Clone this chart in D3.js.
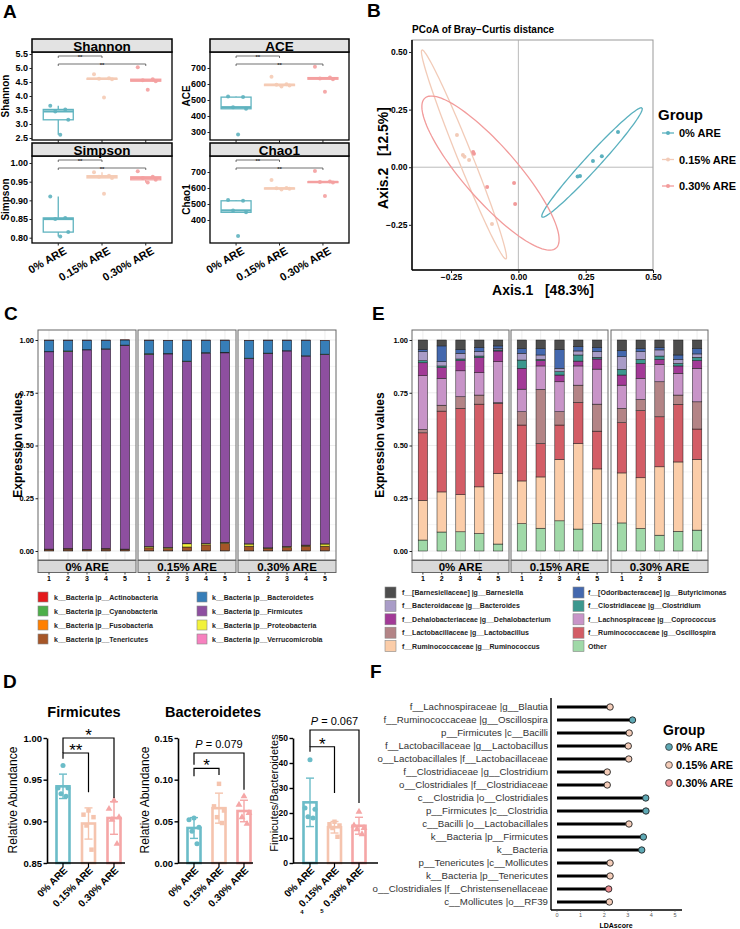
<!DOCTYPE html>
<html>
<head>
<meta charset="utf-8">
<script src="https://cdn.jsdelivr.net/npm/d3@7"></script>
<style>
body { margin: 0; background: #fff; }
svg { font-family: "Liberation Sans", Arial, sans-serif; }
</style>
</head>
<body>
<svg id="fig" width="740" height="929"></svg>
<script>
const FONT = "'Liberation Sans', Arial, sans-serif";
const groups = ["0% ARE", "0.15% ARE", "0.30% ARE"];

// ---- A: alpha diversity (5 mice per group)
const shannonVals = [[3.65, 3.52, 3.45, 3.15, 2.62], [4.78, 4.63, 4.62, 4.60, 3.95], [5.03, 4.60, 4.56, 4.53, 4.22]];
const simpsonVals = [[0.910, 0.853, 0.850, 0.815, 0.803], [0.975, 0.966, 0.963, 0.960, 0.918], [0.978, 0.963, 0.960, 0.955, 0.948]];
const aceVals = [[522, 518, 455, 445, 285], [645, 598, 595, 590, 585], [708, 640, 635, 630, 552]];
const chao1Vals = [[525, 520, 460, 448, 300], [650, 600, 598, 595, 590], [706, 640, 638, 635, 550]];

// ---- B: PCoA coordinates
const pcoaX = [[0.37, 0.31, 0.277, 0.229, 0.22], [-0.228, -0.206, -0.183, -0.098, -0.2], [-0.168, -0.165, -0.116, -0.016, -0.012]];
const pcoaY = [[0.153, 0.048, 0.027, -0.038, -0.04], [0.14, 0.053, 0.031, -0.246, 0.045], [0.066, 0.058, -0.086, -0.069, -0.16]];
const ellipseAxis = [[[0.459, 0.257], [0.088, -0.216]], [[-0.358, 0.509], [-0.046, -0.398]], [[-0.347, 0.30], [0.14, -0.351]]];
const ellipseRatio = [0.1, 0.065, 0.27];

// ---- C: phylum composition, 15 samples
const phyla = ["Actinobacteria", "Bacteroidetes", "Cyanobacteria", "Firmicutes", "Fusobacteria", "Proteobacteria", "Tenericutes", "Verrucomicrobia"];
const phylumColors = ["#e41a1c", "#377eb8", "#4daf4a", "#8e4fa0", "#ff7f00", "#f2f23a", "#a65628", "#f781bf"];
const actinobacteria = [0.001, 0.001, 0.001, 0.001, 0.001, 0.001, 0.001, 0.001, 0.001, 0.001, 0.001, 0.001, 0.001, 0.001, 0.001];
const bacteroidetes = [0.054, 0.051, 0.045, 0.041, 0.024, 0.064, 0.062, 0.099, 0.059, 0.057, 0.084, 0.061, 0.050, 0.074, 0.064];
const cyanobacteria = [0.001, 0.003, 0.001, 0.001, 0.001, 0.003, 0.002, 0.002, 0.002, 0.003, 0.002, 0.001, 0.001, 0.001, 0.002];
const firmicutes = [0.935, 0.933, 0.945, 0.945, 0.966, 0.910, 0.917, 0.863, 0.902, 0.898, 0.878, 0.922, 0.926, 0.896, 0.897];
const fusobacteria = [0.001, 0.001, 0.001, 0.001, 0.001, 0.001, 0.001, 0.001, 0.001, 0.001, 0.001, 0.001, 0.001, 0.001, 0.001];
const proteobacteria = [0.001, 0.002, 0.001, 0.002, 0.001, 0.006, 0.005, 0.015, 0.006, 0.004, 0.010, 0.002, 0.004, 0.004, 0.010];
const tenericutes = [0.006, 0.008, 0.005, 0.008, 0.006, 0.014, 0.010, 0.018, 0.028, 0.035, 0.022, 0.011, 0.016, 0.022, 0.022];
const verrucomicrobia = [0.001, 0.001, 0.001, 0.001, 0.001, 0.001, 0.001, 0.001, 0.001, 0.001, 0.001, 0.001, 0.001, 0.001, 0.001];

// ---- E: genus composition, 15 samples
const genusLabels = ["f__[Barnesiellaceae] |g__Barnesiella", "f__[Odoribacteraceae] |g__Butyricimonas", "f__Bacteroidaceae |g__Bacteroides",
  "f__Clostridiaceae |g__Clostridium", "f__Dehalobacteriaceae |g__Dehalobacterium", "f__Lachnospiraceae |g__Coprococcus",
  "f__Lactobacillaceae |g__Lactobacillus", "f__Ruminococcaceae |g__Oscillospira", "f__Ruminococcaceae |g__Ruminococcus", "Other"];
const genusColors = ["#4d4d4d", "#4468ae", "#a99cc7", "#3c978e", "#a23a97", "#c894c8", "#b38486", "#d35d66", "#fbcda9", "#a0d9a8"];
const barnesiella = [0.044, 0.028, 0.044, 0.035, 0.028, 0.040, 0.040, 0.044, 0.032, 0.035, 0.051, 0.040, 0.035, 0.071, 0.040];
const butyricimonas = [0.011, 0.075, 0.019, 0.020, 0.012, 0.023, 0.031, 0.090, 0.020, 0.020, 0.028, 0.015, 0.012, 0.021, 0.026];
const bacteroides = [0.043, 0.020, 0.027, 0.021, 0.007, 0.032, 0.021, 0.016, 0.019, 0.027, 0.060, 0.037, 0.029, 0.019, 0.016];
const clostridium = [0.010, 0.008, 0.008, 0.008, 0.005, 0.039, 0.006, 0.016, 0.029, 0.008, 0.027, 0.019, 0.016, 0.012, 0.016];
const dehalobacterium = [0.061, 0.051, 0.048, 0.071, 0.051, 0.099, 0.025, 0.032, 0.023, 0.048, 0.048, 0.071, 0.024, 0.035, 0.036];
const coprococcus = [0.255, 0.127, 0.123, 0.106, 0.194, 0.107, 0.111, 0.142, 0.091, 0.166, 0.110, 0.100, 0.082, 0.103, 0.159];
const lactobacillus = [0.016, 0.028, 0.055, 0.043, 0.004, 0.063, 0.257, 0.063, 0.082, 0.128, 0.068, 0.053, 0.166, 0.044, 0.129];
const oscillospira = [0.320, 0.383, 0.409, 0.392, 0.332, 0.265, 0.158, 0.163, 0.195, 0.179, 0.238, 0.318, 0.237, 0.273, 0.144];
const ruminococcus = [0.188, 0.190, 0.176, 0.221, 0.334, 0.202, 0.243, 0.291, 0.405, 0.259, 0.237, 0.240, 0.324, 0.329, 0.335];
const otherGenus = [0.052, 0.090, 0.091, 0.083, 0.033, 0.130, 0.108, 0.143, 0.104, 0.130, 0.133, 0.107, 0.075, 0.093, 0.099];

// ---- D: relative abundance per mouse
const firmicutesRA = [[0.967, 0.940, 0.940, 0.933, 0.930], [0.913, 0.908, 0.905, 0.895, 0.866], [0.925, 0.915, 0.905, 0.902, 0.873]];
const bacteroidetesRA = [[0.054, 0.052, 0.043, 0.038, 0.023], [0.095, 0.068, 0.063, 0.055, 0.048], [0.080, 0.070, 0.060, 0.055, 0.047]];
const fbRatio = [[41.3, 22.0, 21.5, 18.5, 18.0], [16.5, 15.5, 15.0, 14.0, 10.5], [20.5, 15.0, 14.0, 13.5, 11.5]];

// ---- F: LEfSe
const ldaTaxa = ["f__Lachnospiraceae |g__Blautia", "f__Ruminococcaceae |g__Oscillospira", "p__Firmicutes |c__Bacilli",
  "f__Lactobacillaceae |g__Lactobacillus", "o__Lactobacillales |f__Lactobacillaceae", "f__Clostridiaceae |g__Clostridium",
  "o__Clostridiales |f__Clostridiaceae", "c__Clostridia |o__Clostridiales", "p__Firmicutes |c__Clostridia",
  "c__Bacilli |o__Lactobacillales", "k__Bacteria |p__Firmicutes", "k__Bacteria", "p__Tenericutes |c__Mollicutes",
  "k__Bacteria |p__Tenericutes", "o__Clostridiales |f__Christensenellaceae", "c__Mollicutes |o__RF39"];
const ldaScores = [2.25, 3.2, 3.06, 3.02, 3.04, 2.13, 2.13, 3.76, 3.77, 3.05, 3.66, 3.59, 2.25, 2.25, 2.19, 2.22];
const ldaGroup = [1, 0, 1, 1, 1, 1, 1, 0, 0, 1, 0, 0, 1, 1, 2, 1];

const colA = ["#5fb3bf", "#f5cbb5", "#f4a0a0"];
const colB = ["#5ab0be", "#f2cbb8", "#f29b9b"];
const colD = ["#6bbcc8", "#f5c4ae", "#f5a6a6"];
const colF = ["#5ea9b5", "#f5cdb9", "#ee8f93"];

const svg = d3.select("#fig");
svg.append("rect").attr("width", 740).attr("height", 929).attr("fill", "#fff");

function label(g, x, y, s, size, weight, anchor, fill) {
  return g.append("text").attr("x", x).attr("y", y).text(s)
    .attr("font-size", size).attr("font-weight", weight || "normal")
    .attr("text-anchor", anchor || "start").attr("fill", fill || "#000");
}
function styleAxis(ax, size, weight) {
  ax.attr("font-family", FONT).attr("font-size", size);
  ax.selectAll("text").attr("font-weight", weight).attr("fill", "#000");
  ax.selectAll("line").attr("stroke", "#222");
}

[["A", 3, 18], ["B", 367, 17], ["C", 4, 320], ["E", 372, 320], ["D", 3, 688], ["F", 370, 678]]
  .forEach(([t, x, y]) => label(svg, x, y, t, 19, "bold"));

// ================= A =================
const jitA = [-8, 7, -3, 10, 2];
function boxFacet(s) {
  const g = svg.append("g");
  const x = d3.scalePoint().domain(groups).range([s.x0, s.x1]).padding(0.6);
  const y = d3.scaleLinear().domain(s.domain).range(s.range);
  const bt = s.top + 13;
  g.append("rect").attr("x", s.x0).attr("y", bt).attr("width", s.x1 - s.x0).attr("height", s.bottom - bt)
    .attr("fill", "none").attr("stroke", "#000").attr("stroke-width", 1.3);
  g.append("rect").attr("x", s.x0).attr("y", s.top).attr("width", s.x1 - s.x0).attr("height", 13)
    .attr("fill", "#e3e3e3").attr("stroke", "#000").attr("stroke-width", 1.5);
  label(g, (s.x0 + s.x1) / 2, s.top + 12, s.name, 13.5, "bold", "middle");
  const ax = g.append("g").attr("transform", `translate(${s.x0},0)`)
    .call(d3.axisLeft(y).tickValues(s.ticks).tickFormat(s.fmt).tickSize(2.5).tickPadding(1.5));
  ax.select(".domain").remove();
  styleAxis(ax, 9, "bold");
  groups.forEach(d => g.append("line").attr("x1", x(d)).attr("x2", x(d)).attr("y1", s.bottom)
    .attr("y2", s.bottom + 2.5).attr("stroke", "#222"));
  g.append("text").attr("transform", `translate(${s.titleX},${(bt + s.bottom) / 2}) rotate(-90)`)
    .attr("text-anchor", "middle").attr("font-size", 10).attr("font-weight", "bold").text(s.name);

  s.values.forEach((vals, i) => {
    const v = vals.slice().sort(d3.ascending);
    const q1 = d3.quantile(v, 0.25), med = d3.quantile(v, 0.5), q3 = d3.quantile(v, 0.75);
    const iqr = q3 - q1;
    const lo = d3.min(v.filter(d => d >= q1 - 1.5 * iqr)), hi = d3.max(v.filter(d => d <= q3 + 1.5 * iqr));
    const cx = x(groups[i]), w = 30, c = colA[i];
    g.append("line").attr("x1", cx).attr("x2", cx).attr("y1", y(hi)).attr("y2", y(q3)).attr("stroke", c).attr("stroke-width", 1.3);
    g.append("line").attr("x1", cx).attr("x2", cx).attr("y1", y(q1)).attr("y2", y(lo)).attr("stroke", c).attr("stroke-width", 1.3);
    g.append("rect").attr("x", cx - w / 2).attr("y", y(q3)).attr("width", w).attr("height", Math.max(1, y(q1) - y(q3)))
      .attr("fill", "#fff").attr("stroke", c).attr("stroke-width", 1.3);
    g.append("line").attr("x1", cx - w / 2).attr("x2", cx + w / 2).attr("y1", y(med)).attr("y2", y(med))
      .attr("stroke", c).attr("stroke-width", 2.2);
    vals.forEach((d, k) => g.append("circle").attr("cx", cx + jitA[k]).attr("cy", y(d)).attr("r", 2)
      .attr("fill", c).attr("opacity", 0.9));
  });
  // significance brackets
  [[1, 4], [2, 12]].forEach(([j, off]) => {
    const yy = bt + off, xa = x(groups[0]), xb = x(groups[j]);
    g.append("path").attr("d", `M${xa},${yy + 2}V${yy}H${xb}V${yy + 2}`).attr("fill", "none")
      .attr("stroke", "#333").attr("stroke-width", 0.7);
    label(g, (xa + xb) / 2, yy + 2.5, "**", 6, "bold", "middle", "#333");
  });
  if (s.showX) {
    groups.forEach(d => g.append("text").attr("transform", `translate(${x(d) + 9},${s.bottom + 10}) rotate(-30)`)
      .attr("text-anchor", "end").attr("font-size", 11).attr("font-weight", "bold").text(d));
  }
}
boxFacet({name: "Shannon", values: shannonVals, x0: 32, x1: 172, top: 39, bottom: 140, domain: [2.5, 5.5], range: [138, 54],
  ticks: d3.range(2.5, 5.51, 0.5), fmt: d3.format(".1f"), titleX: 9, showX: false});
boxFacet({name: "Simpson", values: simpsonVals, x0: 32, x1: 172, top: 143, bottom: 243, domain: [0.8, 1.0], range: [237.7, 163],
  ticks: [0.8, 0.85, 0.9, 0.95, 1.0], fmt: d3.format(".2f"), titleX: 9, showX: true});
boxFacet({name: "ACE", values: aceVals, x0: 210, x1: 349, top: 39, bottom: 140, domain: [300, 700], range: [132, 68],
  ticks: [300, 400, 500, 600, 700], fmt: d3.format("d"), titleX: 190, showX: false});
boxFacet({name: "Chao1", values: chao1Vals, x0: 210, x1: 349, top: 143, bottom: 243, domain: [300, 700], range: [236, 172],
  ticks: [400, 500, 600, 700], fmt: d3.format("d"), titleX: 190, showX: true});

// ================= B =================
(function () {
  const g = svg.append("g");
  const x = d3.scaleLinear().domain([-0.395, 0.5]).range([412, 653]);
  const y = d3.scaleLinear().domain([-0.446, 0.552]).range([270, 40]);
  label(g, 412, 33, "PCoA of Bray\u2212Curtis distance", 10, "bold");
  g.append("rect").attr("x", 412).attr("y", 40).attr("width", 241).attr("height", 230)
    .attr("fill", "none").attr("stroke", "#999").attr("stroke-width", 1);
  g.append("line").attr("x1", x(0)).attr("x2", x(0)).attr("y1", 40).attr("y2", 270).attr("stroke", "#aaa").attr("stroke-width", 0.8);
  g.append("line").attr("x1", 412).attr("x2", 653).attr("y1", y(0)).attr("y2", y(0)).attr("stroke", "#aaa").attr("stroke-width", 0.8);
  const ax = g.append("g").attr("transform", "translate(412,0)")
    .call(d3.axisLeft(y).tickValues([-0.25, 0, 0.25, 0.5]).tickFormat(d3.format(".2f")).tickSize(3).tickSizeOuter(0).tickPadding(1.5));
  ax.select(".domain").attr("d", "M0,40V270").attr("stroke", "#000").attr("stroke-width", 1.5);
  styleAxis(ax, 8.5, "bold");
  const bx = g.append("g").attr("transform", "translate(0,270)")
    .call(d3.axisBottom(x).tickValues([-0.25, 0, 0.25, 0.5]).tickFormat(d3.format(".2f")).tickSize(3).tickSizeOuter(0).tickPadding(1));
  bx.select(".domain").attr("d", "M412,0H653").attr("stroke", "#000").attr("stroke-width", 1.5);
  styleAxis(bx, 8.5, "bold");
  g.append("text").attr("x", 543).attr("y", 295).attr("text-anchor", "middle").attr("font-size", 14)
    .attr("font-weight", "bold").style("white-space", "pre").text("Axis.1   [48.3%]");
  g.append("text").attr("transform", "translate(388,158) rotate(-90)").attr("text-anchor", "middle").attr("font-size", 14)
    .attr("font-weight", "bold").style("white-space", "pre").text("Axis.2   [12.5%]");

  groups.forEach((gn, i) => {
    const [e0, e1] = ellipseAxis[i];
    const p0 = [x(e0[0]), y(e0[1])], p1 = [x(e1[0]), y(e1[1])];
    const c = [(p0[0] + p1[0]) / 2, (p0[1] + p1[1]) / 2];
    const u = [(p0[0] - p1[0]) / 2, (p0[1] - p1[1]) / 2];
    const v = [-u[1] * ellipseRatio[i], u[0] * ellipseRatio[i]];
    const pts = d3.range(0, 2 * Math.PI + 0.05, Math.PI / 60)
      .map(t => [c[0] + u[0] * Math.cos(t) + v[0] * Math.sin(t), c[1] + u[1] * Math.cos(t) + v[1] * Math.sin(t)]);
    g.append("path").attr("d", d3.line()(pts)).attr("fill", "none").attr("stroke", colB[i]).attr("stroke-width", 1.3);
  });
  groups.forEach((gn, i) => pcoaX[i].forEach((d, k) =>
    g.append("circle").attr("cx", x(d)).attr("cy", y(pcoaY[i][k])).attr("r", 2).attr("fill", colB[i])));

  label(g, 658, 120, "Group", 15, "bold");
  groups.forEach((gn, i) => {
    const yy = 133 + i * 26.5;
    g.append("line").attr("x1", 662).attr("x2", 674).attr("y1", yy).attr("y2", yy).attr("stroke", colB[i]).attr("stroke-width", 1.3);
    g.append("circle").attr("cx", 668).attr("cy", yy).attr("r", 2).attr("fill", colB[i]);
    label(g, 679, yy + 4, gn, 11, "bold");
  });
})();

// ================= C & E =================
function stackedPanel(o) {
  const g = svg.append("g");
  const y = d3.scaleLinear().domain([0, 1]).range([551, 340]);
  const samples = d3.range(15).map(i => {
    const r = {};
    o.keys.forEach((k, j) => { r[k] = o.values[j][i]; });
    return r;
  });
  const series = d3.stack().keys(o.keys.slice().reverse())(samples);
  const colorOf = d3.scaleOrdinal().domain(o.keys).range(o.colors);
  o.facets.forEach(([x0, x1], f) => {
    const band = d3.scaleBand().domain(d3.range(5)).range([x0, x1]).paddingInner(0.5).paddingOuter(0.33);
    d3.range(0, 1.01, 0.125).forEach(t => g.append("line").attr("x1", x0).attr("x2", x1).attr("y1", y(t)).attr("y2", y(t))
      .attr("stroke", "#ebebeb").attr("stroke-width", t * 8 % 2 === 0 ? 0.9 : 0.5));
    d3.range(5).forEach(i => g.append("line").attr("x1", band(i) + band.bandwidth() / 2).attr("x2", band(i) + band.bandwidth() / 2)
      .attr("y1", 330).attr("y2", 560).attr("stroke", "#ebebeb").attr("stroke-width", 0.9));
    series.forEach(s => d3.range(5).forEach(i => {
      const d = s[f * 5 + i];
      g.append("rect").attr("x", band(i)).attr("y", y(d[1])).attr("width", band.bandwidth())
        .attr("height", Math.max(0, y(d[0]) - y(d[1]))).attr("fill", colorOf(s.key))
        .attr("stroke", "#1a1a1a").attr("stroke-width", 0.5);
    }));
    g.append("rect").attr("x", x0).attr("y", 330).attr("width", x1 - x0).attr("height", 230)
      .attr("fill", "none").attr("stroke", "#666").attr("stroke-width", 1);
    g.append("rect").attr("x", x0).attr("y", 560.5).attr("width", x1 - x0).attr("height", 12)
      .attr("fill", "#d9d9d9").attr("stroke", "#666").attr("stroke-width", 1);
    label(g, (x0 + x1) / 2, 571, groups[f], 11.5, "bold", "middle");
    o.sampleLabels[f].forEach((t, i) => {
      const cx = band(i) + band.bandwidth() / 2;
      g.append("line").attr("x1", cx).attr("x2", cx).attr("y1", 572.5).attr("y2", 574.5).attr("stroke", "#333");
      label(g, cx, 581, t, 7, "bold", "middle");
    });
  });
  const ax = g.append("g").attr("transform", `translate(${o.facets[0][0]},0)`)
    .call(d3.axisLeft(y).tickValues([0, 0.25, 0.5, 0.75, 1]).tickFormat(d3.format(".2f")).tickSize(2.5).tickPadding(1.5));
  ax.select(".domain").remove();
  styleAxis(ax, 7.5, "bold");
  g.append("text").attr("transform", `translate(${o.titleX},445) rotate(-90)`).attr("text-anchor", "middle")
    .attr("font-size", 12).attr("font-weight", "bold").text("Expression values");
  // legend
  o.legendLabels.forEach((t, k) => {
    const col = k % 2, row = Math.floor(k / 2);
    const yy = o.leg.y0 + row * o.leg.dy;
    g.append("rect").attr("x", o.leg.sx[col]).attr("y", yy - o.leg.sz / 2).attr("width", o.leg.sz).attr("height", o.leg.sz)
      .attr("fill", colorOf(o.keys[k])).attr("stroke", "#888").attr("stroke-width", 0.6);
    label(g, o.leg.tx[col], yy + 2.5, t, 7, "bold", "start", "#222");
  });
}
stackedPanel({
  keys: phyla, colors: phylumColors,
  values: [actinobacteria, bacteroidetes, cyanobacteria, firmicutes, fusobacteria, proteobacteria, tenericutes, verrucomicrobia],
  facets: [[38, 136], [138, 236], [238, 336]],
  sampleLabels: [["1", "2", "3", "4", "5"], ["1", "2", "3", "4", "5"], ["1", "2", "3", "4", "5"]],
  titleX: 22,
  legendLabels: phyla.map(p => "k__Bacteria |p__" + p),
  leg: {y0: 597, dy: 14, sz: 10, sx: [38, 197], tx: [54, 212]}
});
stackedPanel({
  keys: genusLabels, colors: genusColors,
  values: [barnesiella, butyricimonas, bacteroides, clostridium, dehalobacterium, coprococcus, lactobacillus, oscillospira, ruminococcus, otherGenus],
  facets: [[412, 509], [511, 608], [611, 708]],
  sampleLabels: [["1", "2", "3", "4", "5"], ["1", "2", "3", "4", "5"], ["1", "2", "3"]],
  titleX: 384,
  legendLabels: genusLabels,
  leg: {y0: 592.5, dy: 13.4, sz: 11, sx: [385, 573], tx: [402, 588]}
});

// ================= D =================
const jitD = [0, -5, 5, -2, 3];
const shapes = [d3.symbolCircle, d3.symbolSquare, d3.symbolTriangle];
function barPanel(s) {
  const g = svg.append("g");
  const x = d3.scalePoint().domain(groups).range(s.xr);
  const y = d3.scaleLinear().domain(s.domain).range([863, 738]);
  s.values.forEach((vals, i) => {
    const m = d3.mean(vals), sd = d3.deviation(vals), cx = x(groups[i]), c = colD[i];
    g.append("rect").attr("x", cx - 6.5).attr("y", y(m)).attr("width", 13).attr("height", y(s.domain[0]) - y(m))
      .attr("fill", "#fff").attr("stroke", c).attr("stroke-width", 2.6);
    g.append("line").attr("x1", cx).attr("x2", cx).attr("y1", y(m + sd)).attr("y2", y(m - sd)).attr("stroke", c).attr("stroke-width", 1.4);
    [m + sd, m - sd].forEach(v => g.append("line").attr("x1", cx - 4).attr("x2", cx + 4).attr("y1", y(v)).attr("y2", y(v))
      .attr("stroke", c).attr("stroke-width", 1.4));
    vals.forEach((d, k) => g.append("path").attr("d", d3.symbol().type(shapes[i]).size(20)())
      .attr("transform", `translate(${cx + jitD[k]},${y(d)})`).attr("fill", c));
  });
  const ax = g.append("g").attr("transform", `translate(${s.axisX},0)`)
    .call(d3.axisLeft(y).tickValues(s.ticks).tickFormat(s.fmt).tickSize(3.5).tickSizeOuter(0).tickPadding(1.5));
  ax.select(".domain").attr("stroke", "#000").attr("stroke-width", 1.6);
  styleAxis(ax, s.tickSize, "bold");
  ax.selectAll("line").attr("stroke", "#000").attr("stroke-width", 1.4);
  g.append("line").attr("x1", s.axisX).attr("x2", s.axisEnd).attr("y1", 863).attr("y2", 863).attr("stroke", "#000").attr("stroke-width", 1.6);
  groups.forEach(d => {
    g.append("line").attr("x1", x(d)).attr("x2", x(d)).attr("y1", 863).attr("y2", 867).attr("stroke", "#000").attr("stroke-width", 1.2);
    g.append("text").attr("transform", `translate(${x(d) + 5},871) rotate(-45)`).attr("text-anchor", "end")
      .attr("font-size", 10).attr("font-weight", "bold").text(d);
  });
  g.append("text").attr("transform", `translate(${s.titleX},${s.titleY}) rotate(-90)`).attr("text-anchor", "middle")
    .attr("font-size", s.titleSize).text(s.ylab);
  if (s.title) label(g, s.titleCx, 717, s.title, 14.5, "bold", "middle");
  s.brackets.forEach(b => {
    const xa = x(groups[b.a]), xb = x(groups[b.b]), yy = y(b.y);
    g.append("path").attr("d", `M${xa},${y(b.yl)}V${yy}H${xb}V${y(b.yr)}`).attr("fill", "none")
      .attr("stroke", "#000").attr("stroke-width", 1.2);
    if (b.p) {
      const t = g.append("text").attr("x", (xa + xb) / 2).attr("y", yy - 5).attr("text-anchor", "middle").attr("font-size", 11);
      t.append("tspan").attr("font-style", "italic").text("P");
      t.append("tspan").text(" = " + b.p);
    } else {
      label(g, (xa + xb) / 2, yy + 3, b.label, 17, "normal", "middle");
    }
  });
}
barPanel({values: firmicutesRA, xr: [63, 114], domain: [0.85, 1.0], ticks: [0.85, 0.9, 0.95, 1.0], fmt: d3.format(".2f"),
  axisX: 47, axisEnd: 125, ylab: "Relative Abundance", titleX: 17, titleY: 800, titleSize: 12, title: "Firmicutes", titleCx: 84,
  tickSize: 9.5,
  brackets: [{a: 0, b: 2, y: 1.0, yl: 0.982, yr: 0.928, label: "*"}, {a: 0, b: 1, y: 0.982, yl: 0.975, yr: 0.935, label: "**"}]});
barPanel({values: bacteroidetesRA, xr: [194, 244], domain: [0, 0.15], ticks: [0, 0.05, 0.1, 0.15], fmt: d3.format(".2f"),
  axisX: 178, axisEnd: 253, ylab: "Relative Abundance", titleX: 149, titleY: 800, titleSize: 12, title: "Bacteroidetes", titleCx: 213,
  tickSize: 9.5,
  brackets: [{a: 0, b: 2, y: 0.132, yl: 0.118, yr: 0.088, p: "0.079"}, {a: 0, b: 1, y: 0.1136, yl: 0.104, yr: 0.1056, label: "*"}]});
barPanel({values: fbRatio, xr: [310, 359], domain: [0, 50], ticks: [0, 10, 20, 30, 40, 50], fmt: d3.format("d"),
  axisX: 293, axisEnd: 378, ylab: "Fimicutes/Bacteroidetes", titleX: 278, titleY: 793, titleSize: 11, tickSize: 8.5,
  brackets: [{a: 0, b: 2, y: 53.2, yl: 46.5, yr: 24, p: "0.067"}, {a: 0, b: 1, y: 46.5, yl: 44.5, yr: 28, label: "*"}]});
label(svg, 302, 914, "4", 6, "bold", "middle");
label(svg, 322, 913, "5", 6, "bold", "middle");

// ================= F =================
(function () {
  const g = svg.append("g");
  const x = d3.scaleLinear().domain([0, 5]).range([557, 675]);
  const y = d3.scalePoint().domain(ldaTaxa).range([707, 902]);
  g.append("line").attr("x1", 551).attr("x2", 551).attr("y1", 698).attr("y2", 910).attr("stroke", "#000").attr("stroke-width", 1.4);
  g.append("line").attr("x1", 551).attr("x2", 682).attr("y1", 910).attr("y2", 910).attr("stroke", "#000").attr("stroke-width", 1.4);
  d3.range(0, 6).forEach(t => {
    g.append("line").attr("x1", x(t)).attr("x2", x(t)).attr("y1", 910).attr("y2", 912).attr("stroke", "#555").attr("stroke-width", 0.5);
    label(g, x(t), 917, String(t), 5.5, "normal", "middle", "#555");
  });
  label(g, 616, 928, "LDAscore", 7, "bold", "middle");
  ldaTaxa.forEach((t, i) => {
    const yy = y(t);
    label(g, 548, yy + 3.3, t, 9.7, "normal", "end", "#333");
    g.append("line").attr("x1", x(0)).attr("x2", x(ldaScores[i])).attr("y1", yy).attr("y2", yy).attr("stroke", "#000").attr("stroke-width", 3);
    g.append("circle").attr("cx", x(ldaScores[i])).attr("cy", yy).attr("r", 3.2).attr("fill", colF[ldaGroup[i]])
      .attr("stroke", "#222").attr("stroke-width", 0.9);
  });
  label(g, 663, 735, "Group", 14, "bold");
  groups.forEach((gn, i) => {
    const yy = 747 + i * 18;
    g.append("circle").attr("cx", 669).attr("cy", yy).attr("r", 3.4).attr("fill", colF[i]).attr("stroke", "#333").attr("stroke-width", 0.8);
    label(g, 676, yy + 4, gn, 11, "bold");
  });
})();
</script>
</body>
</html>
